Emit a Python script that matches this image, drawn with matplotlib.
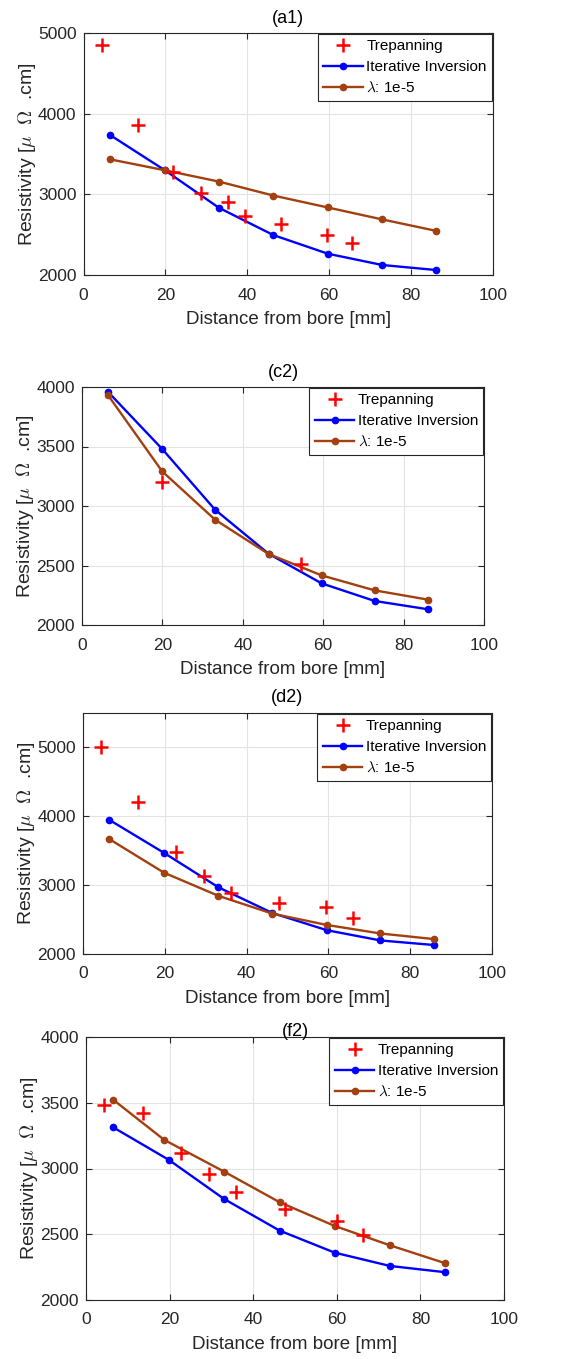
import matplotlib
matplotlib.use("Agg")
import matplotlib.pyplot as plt

# ---------------- data ----------------
# Panel (a1)
a1_trep_x = [4.5, 13.3, 21.8, 28.6, 35.2, 39.5, 48.3, 59.5, 65.6]
a1_trep_y = [4856, 3859, 3274, 3022, 2903, 2734, 2635, 2495, 2392]
a1_x = [6.5, 19.9, 33.1, 46.4, 59.7, 73.0, 86.1]
a1_iter = [3735, 3298, 2833, 2495, 2264, 2124, 2062]
a1_lam = [3434, 3298, 3158, 2985, 2837, 2689, 2548]

# Panel (c2)
c2_trep_x = [19.95, 54.6]
c2_trep_y = [3199, 2513]
c2_x = [6.5, 19.95, 33.1, 46.4, 59.6, 72.8, 86.1]
c2_iter = [3958, 3479, 2969, 2599, 2350, 2202, 2132]
c2_lam = [3930, 3291, 2885, 2597, 2417, 2291, 2213]

# Panel (d2)
d2_trep_x = [4.4, 13.5, 22.7, 29.5, 36.2, 47.8, 59.4, 66.0]
d2_trep_y = [5000, 4213, 3478, 3133, 2888, 2744, 2682, 2528]
d2_x = [6.4, 19.8, 33.1, 46.3, 59.6, 72.7, 85.9]
d2_iter = [3949, 3469, 2969, 2595, 2346, 2197, 2130]
d2_lam = [3670, 3181, 2845, 2586, 2422, 2298, 2216]

# Panel (f2)
f2_trep_x = [4.2, 13.6, 22.7, 29.4, 36.0, 47.7, 60.0, 66.3]
f2_trep_y = [3485, 3421, 3117, 2957, 2825, 2695, 2601, 2495]
f2_x_iter = [6.4, 19.8, 33.0, 46.3, 59.5, 72.7, 86.0]
f2_iter = [3315, 3066, 2769, 2528, 2360, 2259, 2211]
f2_x_lam = [6.5, 18.7, 33.0, 46.3, 59.5, 72.7, 86.0]
f2_lam = [3523, 3218, 2977, 2744, 2563, 2416, 2279]

titles = ["(a1)", "(c2)", "(d2)", "(f2)"]
ylims = [(2000, 5000), (2000, 4000), (2000, 5500), (2000, 4000)]
yticks = [[2000, 3000, 4000, 5000],
          [2000, 2500, 3000, 3500, 4000],
          [2000, 3000, 4000, 5000],
          [2000, 2500, 3000, 3500, 4000]]
xticks = [0, 20, 40, 60, 80, 100]
labels = ["Trepanning", "Iterative Inversion", r"$\lambda$: 1e-5"]

# ---------------- style ----------------
plt.rcParams['font.family'] = ['Liberation Sans', 'DejaVu Sans']
plt.rcParams['mathtext.fontset'] = 'cm'
txt = '#262626'
blue = '#0000FF'
brown = '#A2400F'

fig = plt.figure(figsize=(5.64, 13.59), dpi=100)
W, H = 564.0, 1359.0
boxes = [(83.5, 33, 492.7, 275),
         (82, 387, 484, 625),
         (83, 713, 492, 954),
         (86, 1037, 504, 1300)]
title_pads = [7, 7, 8, 1]

panels = [
    (a1_trep_x, a1_trep_y, a1_x, a1_iter, a1_x, a1_lam),
    (c2_trep_x, c2_trep_y, c2_x, c2_iter, c2_x, c2_lam),
    (d2_trep_x, d2_trep_y, d2_x, d2_iter, d2_x, d2_lam),
    (f2_trep_x, f2_trep_y, f2_x_iter, f2_iter, f2_x_lam, f2_lam),
]

for i, (tx, ty, xi, yi, xl, yl) in enumerate(panels):
    l, t, r, b = boxes[i]
    ax = fig.add_axes([l / W, 1 - b / H, (r - l) / W, (b - t) / H])
    h1, = ax.plot(tx, ty, '+', color='red', markersize=10, mew=1.8, zorder=4,
                  linestyle='none')
    h2, = ax.plot(xi, yi, '-o', color=blue, lw=1.7, markersize=4.5, zorder=3)
    h3, = ax.plot(xl, yl, '-o', color=brown, lw=1.7, markersize=4.5, zorder=3)
    ax.set_xlim(0, 100)
    ax.set_ylim(*ylims[i])
    ax.set_xticks(xticks)
    ax.set_yticks(yticks[i])
    ax.grid(True, color='#E3E3E3', lw=0.8)
    ax.set_axisbelow(True)
    ax.tick_params(direction='in', top=True, right=True, length=4,
                   labelsize=12.5, colors=txt)
    ax.tick_params(axis='x', pad=9)
    ax.tick_params(axis='y', pad=5)
    for s in ax.spines.values():
        s.set_color(txt)
        s.set_linewidth(0.8)
    ax.set_title(titles[i], fontsize=13, color='black', pad=title_pads[i])
    ax.set_xlabel("Distance from bore [mm]", fontsize=13.5, color=txt, labelpad=6)
    ax.set_ylabel(r"Resistivity [$\mu$  $\Omega$  .cm]", fontsize=14, color=txt,
                  labelpad=0)
    leg = ax.legend([h1, h2, h3], labels, loc='upper right', fontsize=11,
                    fancybox=False, framealpha=1, edgecolor='#262626',
                    borderaxespad=0.05, handlelength=2.6, handletextpad=0.2,
                    borderpad=0.35, labelspacing=0.45)
    leg.get_frame().set_linewidth(0.8)

fig.savefig("out.png", dpi=100)
